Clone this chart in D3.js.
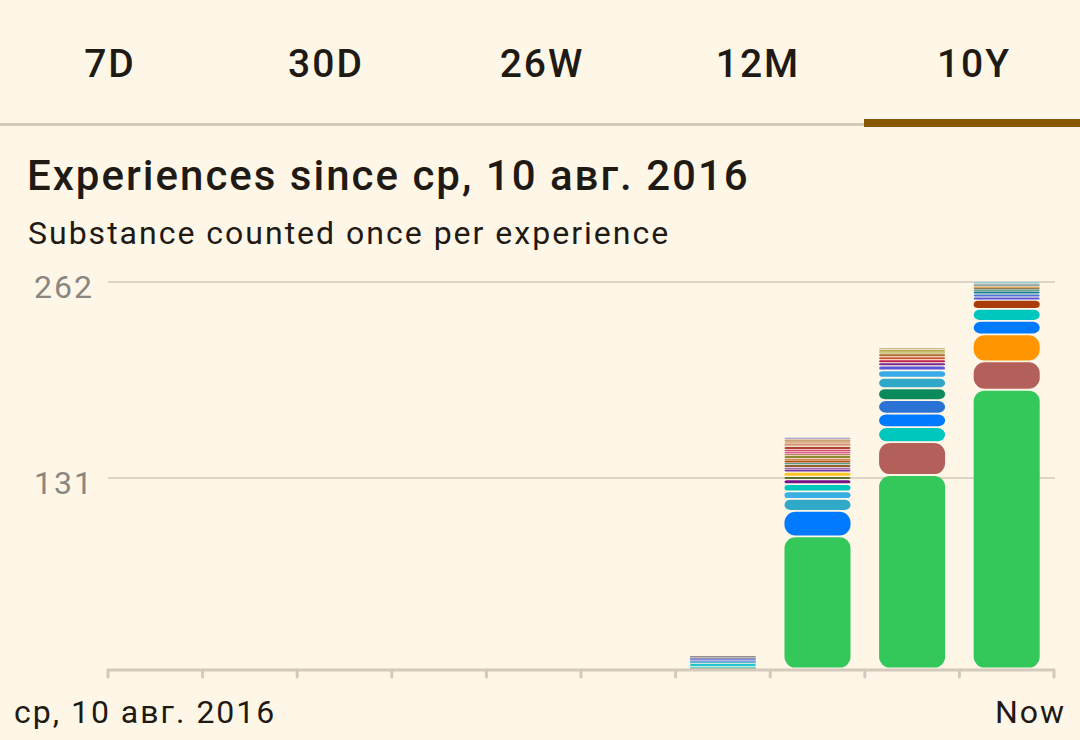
<!DOCTYPE html>
<html><head><meta charset="utf-8">
<script src="https://cdn.jsdelivr.net/npm/d3@7"></script>
<style>
html,body{margin:0;padding:0;background:#fef7e8;}
svg{display:block;font-family:Roboto,"Noto Sans",sans-serif;}
</style></head><body>
<svg id="c" width="1080" height="740"></svg>
<script>
// ---- data ----
const tabs = ["7D","30D","26W","12M","10Y"];
const selectedTab = "10Y";
const titleText = "Experiences since ср, 10 авг. 2016";
const subtitleText = "Substance counted once per experience";
const periods = ["2016","2017","2018","2019","2020","2021","2022","2023","2024","2025"];
const yTicks = [131, 262];
const yMax = 262;
const xStartLabel = "ср, 10 авг. 2016";
const xEndLabel = "Now";

// stacked segments per period, bottom -> top
const values2022 = [4,1,2,1,1,1,1,1];
const colors2022 = ["#4f6040","#40c8c0","#20c4cc","#28a8c8","#5080e0","#5a6ad0","#7270a8","#706c70"];
const values2023 = [92,17,8,5,5,3,2,3,2,1,2,1,2,1,2,1,2,1,2,1,1,1,2,1];
const colors2023 = ["#34c759","#007aff","#30a8c8","#38b0e6","#00c7be","#76108a","#60702c","#fcc521","#7a3aa8","#8a4aa0","#906030","#1f8070","#b05010","#c46424","#8a8a30","#a06030","#e06090","#c02040","#b04030","#d0a080","#c07040","#d89070","#c8a070","#9090c4"];
const values2024 = [133,22,10,9,9,8,7,5,3,2,2,2,2,1,2,1];
const colors2024 = ["#34c759","#b3605a","#00c7be","#007aff","#2a72d4","#0b8a5c","#30a8c8","#38aae8","#5856d6","#7a2a90","#c02050","#d05a30","#b06a30","#a89a30","#b8a850","#cdb88a"];
const values2025 = [190,19,18,9,8,6,2,2,2,1,1,1,1,1,1];
const colors2025 = ["#34c759","#b3605a","#ff9500","#007aff","#00c7be","#a83c0a","#5856d6","#4a72d8","#1a7f8e","#2a8a80","#6b5020","#d9902e","#7a9090","#8a9aa0","#7ec8dc"];

const stacks = {
  "2022": {values: values2022, colors: colors2022},
  "2023": {values: values2023, colors: colors2023},
  "2024": {values: values2024, colors: colors2024},
  "2025": {values: values2025, colors: colors2025}
};

// ---- layout ----
const W = 1080, H = 740;
const svg = d3.select("#c");
const textDark = "#1f1a14";
const lineCol = "#d3cabb";
const ls = 2;

// tabs
const tabX = d3.scaleBand().domain(tabs).range([0, W]);
svg.selectAll("text.tab").data(tabs).join("text")
  .attr("class","tab")
  .attr("x", d => tabX(d) + tabX.bandwidth()/2 + 1 + ls/2)
  .attr("y", 77)
  .attr("text-anchor","middle")
  .attr("font-size", 39).attr("font-weight", 500)
  .attr("letter-spacing", ls)
  .attr("fill", textDark)
  .text(d => d);
svg.append("rect").attr("x",0).attr("y",123).attr("width",W).attr("height",3).attr("fill",lineCol);
svg.append("rect").attr("x", tabX(selectedTab)).attr("y",119).attr("width",tabX.bandwidth()).attr("height",8).attr("fill","#8a5600");

// titles
svg.append("text").attr("x",27).attr("y",190).attr("font-size",42).attr("font-weight",500)
  .attr("letter-spacing", ls).attr("fill",textDark).text(titleText);
svg.append("text").attr("x",28).attr("y",244).attr("font-size",32)
  .attr("letter-spacing", ls).attr("fill",textDark).text(subtitleText);

// scales
const x = d3.scaleBand().domain(periods).range([108, 1054]).paddingInner(0.302).paddingOuter(0.151);
const y = d3.scaleLinear().domain([0, yMax]).range([674, 282]);
const axisY = 670;
const step = x.step();

// gridlines
svg.selectAll("line.grid").data(yTicks).join("line")
  .attr("x1",108).attr("x2",1055)
  .attr("y1",d=>y(d)).attr("y2",d=>y(d))
  .attr("stroke",lineCol).attr("stroke-width",1.6);
svg.selectAll("text.ylab").data(yTicks).join("text")
  .attr("x",92 + ls).attr("y",d=>y(d)+16)
  .attr("text-anchor","end").attr("font-size",32)
  .attr("letter-spacing", ls)
  .attr("fill","#8a8680").text(d=>d);

// bars
periods.forEach(p => {
  const s = stacks[p];
  if (!s) return;
  let cum = 0;
  const segs = s.values.map((v,i) => {
    const seg = {y0: cum, y1: cum + v, color: s.colors[i]};
    cum += v;
    return seg;
  });
  const geom = d => {
    const top = y(d.y1), bot = Math.min(y(d.y0), axisY - 1.5);
    const h = bot - top, g = Math.min(0.9, h*0.15);
    return {y: top + g, h: Math.max(h - 2*g, 0.5), r: Math.min(11, h/2)};
  };
  svg.append("g").selectAll("rect").data(segs).join("rect")
    .attr("x", x(p))
    .attr("width", x.bandwidth())
    .attr("y", d => geom(d).y)
    .attr("height", d => geom(d).h)
    .attr("rx", d => geom(d).r)
    .attr("fill", d => d.color);
});

// x axis
svg.append("line").attr("x1",108).attr("x2",1055).attr("y1",axisY).attr("y2",axisY)
  .attr("stroke",lineCol).attr("stroke-width",3);
const tickPos = periods.map(p => x(p) - step*0.151).concat([x(periods[periods.length-1]) + x.bandwidth() + step*0.151]);
svg.selectAll("line.tick").data(tickPos).join("line")
  .attr("x1",d=>d).attr("x2",d=>d).attr("y1",axisY).attr("y2",axisY+7)
  .attr("stroke",lineCol).attr("stroke-width",3).attr("stroke-linecap","round");

svg.append("text").attr("x",14).attr("y",723).attr("font-size",32).attr("letter-spacing", ls)
  .attr("fill",textDark).text(xStartLabel);
svg.append("text").attr("x",1064 + ls).attr("y",723).attr("text-anchor","end").attr("font-size",32)
  .attr("letter-spacing", ls).attr("fill",textDark).text(xEndLabel);
</script>
</body></html>
